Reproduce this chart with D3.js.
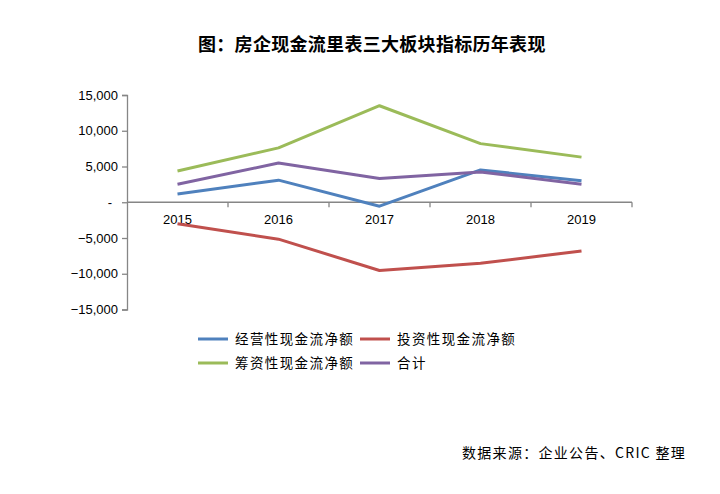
<!DOCTYPE html>
<html><head><meta charset="utf-8">
<script src="https://cdn.jsdelivr.net/npm/d3@7"></script>
<style>
body{margin:0;background:#fff;}
svg{display:block;}
text{font-family:"Liberation Sans","DejaVu Sans",sans-serif;}
</style></head>
<body>
<script>
const years = ["2015","2016","2017","2018","2019"];
const operating = [1150, 3090, -550, 4520, 3000];
const investing = [-3000, -5160, -9540, -8530, -6820];
const financing = [4380, 7600, 13500, 8200, 6310];
const total = [2530, 5480, 3320, 4240, 2530];
const seriesNames = ["经营性现金流净额","投资性现金流净额","筹资性现金流净额","合计"];
const seriesColors = ["#4F81BD","#C0504D","#9BBB59","#8064A2"];
const yTicks = [15000,10000,5000,0,-5000,-10000,-15000];
const titleText = "图：房企现金流里表三大板块指标历年表现";
const sourceText = "数据来源：企业公告、CRIC 整理";

const series = [operating, investing, financing, total];
const W=720,H=494;
const svg=d3.select("body").append("svg").attr("width",W).attr("height",H);

const x=d3.scaleBand().domain(years).range([127,632]);
const y=d3.scaleLinear().domain([-15000,15000]).range([309.5,95]);
const axisColor="#868686";

// title
svg.append("text").attr("x",198).attr("y",51)
  .style("font-family","'Noto Sans CJK SC',sans-serif").style("font-weight","bold")
  .style("font-size","18px").style("letter-spacing","0.3px").attr("fill","#000").text(titleText);

// y axis
const yAxis=d3.axisLeft(y).tickValues(yTicks).tickSize(5).tickPadding(4)
  .tickFormat(d=> d===0 ? "-" : d3.format(",")(d));
const gy=svg.append("g").attr("transform","translate(127,0)").call(yAxis);
gy.select(".domain").attr("stroke",axisColor).attr("stroke-width",1.3);
gy.selectAll(".tick line").attr("stroke",axisColor).attr("stroke-width",1.3);
gy.selectAll(".tick text").style("font-size","13px").attr("fill","#000");
gy.selectAll(".tick text").filter(d=>d===0).attr("dx","-6");

// x axis at zero
const gx=svg.append("g").attr("transform",`translate(0,${y(0)})`);
gx.append("line").attr("x1",127).attr("x2",632).attr("stroke",axisColor).attr("stroke-width",1.3);
const bounds=years.map(d=>x(d)+x.bandwidth());
gx.selectAll("line.t").data(bounds).join("line").attr("class","t")
  .attr("x1",d=>d).attr("x2",d=>d).attr("y1",0).attr("y2",5)
  .attr("stroke",axisColor).attr("stroke-width",1.3);
gx.selectAll("text").data(years).join("text")
  .attr("x",d=>x(d)+x.bandwidth()/2).attr("y",22).attr("text-anchor","middle")
  .style("font-size","13px").attr("fill","#000").text(d=>d);

// lines
const line=d3.line().x((d,i)=>x(years[i])+x.bandwidth()/2).y(d=>y(d));
series.forEach((s,i)=>{
  svg.append("path").datum(s).attr("d",line).attr("fill","none")
    .attr("stroke",seriesColors[i]).attr("stroke-width",3).attr("stroke-linejoin","round");
});

// legend
const legPos=[[198,339],[360,339],[198,363],[360,363]];
seriesNames.forEach((n,i)=>{
  const [lx,ly]=legPos[i];
  svg.append("line").attr("x1",lx).attr("x2",lx+30).attr("y1",ly).attr("y2",ly)
    .attr("stroke",seriesColors[i]).attr("stroke-width",3);
  svg.append("text").attr("x",lx+37).attr("y",ly+5)
    .style("font-family","'Noto Sans CJK SC',sans-serif").style("font-size","13.5px")
    .style("letter-spacing","1.4px").attr("fill","#000").text(n);
});

// source
svg.append("text").attr("x",462).attr("y",458)
  .style("font-family","'Noto Sans CJK SC',sans-serif").style("font-size","14px")
  .style("letter-spacing","1.3px").attr("fill","#000").text(sourceText);
</script>
</body></html>
